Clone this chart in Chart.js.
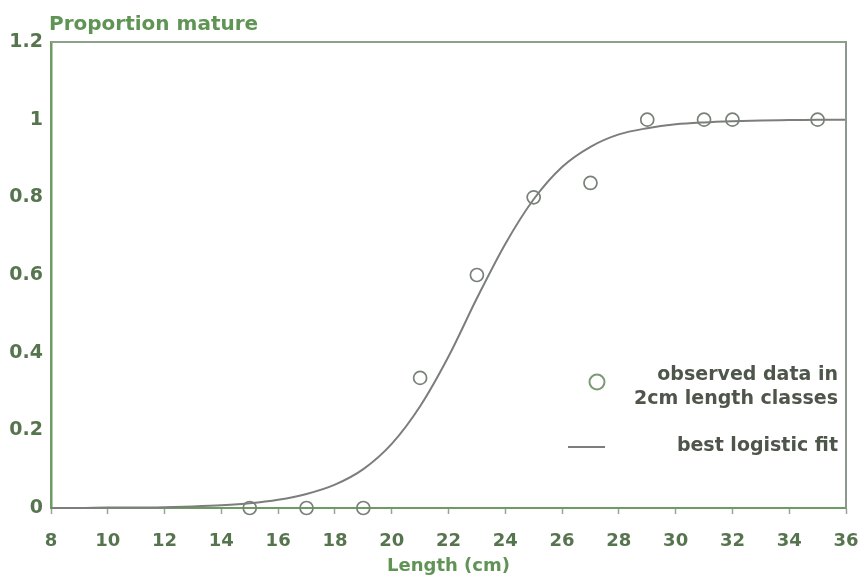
<!DOCTYPE html>
<html>
<head>
<meta charset="utf-8">
<script src="https://cdn.jsdelivr.net/npm/chart.js@4/dist/chart.umd.min.js"></script>
<style>
  html, body { margin: 0; padding: 0; background: #ffffff; }
  #wrap { width: 860px; height: 577px; position: relative; }
</style>
</head>
<body>
<div id="wrap"><canvas id="c" width="860" height="577"></canvas></div>
<script>
// Observed proportion mature per 2 cm length class
const lengthClasses = [15, 17, 19, 21, 23, 25, 27, 29, 31, 32, 35];
const proportionMature = [0, 0, 0, 0.335, 0.6, 0.8, 0.837, 1, 1, 1, 1];

// Fitted logistic curve, sampled at each whole centimetre
const fitLength = [8, 9, 10, 11, 12, 13, 14, 15, 16, 17, 18, 19, 20, 21, 22,
                   23, 24, 25, 26, 27, 28, 29, 30, 31, 32, 33, 34, 35, 36];
const fitProportion = [0.000, 0.000, 0.001, 0.001, 0.002, 0.004, 0.007, 0.012,
                       0.021, 0.036, 0.060, 0.100, 0.165, 0.262, 0.390, 0.540,
                       0.680, 0.795, 0.878, 0.930, 0.962, 0.978, 0.988, 0.993,
                       0.996, 0.998, 0.999, 1.000, 1.000];

const xTickLabels = ['8', '10', '12', '14', '16', '18', '20', '22', '24', '26', '28', '30', '32', '34', '36'];
const yTickLabels = ['0', '0.2', '0.4', '0.6', '0.8', '1', '1.2'];

const FONT = '"DejaVu Sans", "Liberation Sans", sans-serif';
const AXIS_GREEN = '#6f9a65';
const LABEL_GREEN = '#56754f';
const TITLE_GREEN = '#5f9455';
const LEGEND_TEXT = '#4e564c';
const CURVE_GREY = '#7b7e7b';
const POINT_GREY = '#798079';

// Top/right frame, y-axis heading and the in-plot legend
const decorations = {
  id: 'decorations',
  afterDraw(chart) {
    const { ctx, chartArea: a } = chart;
    ctx.save();
    ctx.lineWidth = 2;
    ctx.strokeStyle = '#8da18a';
    ctx.beginPath();
    ctx.moveTo(a.left, a.top);
    ctx.lineTo(a.right, a.top);
    ctx.stroke();
    ctx.strokeStyle = '#8e978e';
    ctx.beginPath();
    ctx.moveTo(a.right, a.top - 1);
    ctx.lineTo(a.right, a.bottom);
    ctx.stroke();

    ctx.fillStyle = TITLE_GREEN;
    ctx.font = 'bold 20px ' + FONT;
    ctx.textAlign = 'left';
    ctx.textBaseline = 'alphabetic';
    ctx.fillText('Proportion mature', a.left - 2, 30);

    // legend
    const textRight = a.right - 8;
    ctx.fillStyle = LEGEND_TEXT;
    ctx.font = 'bold 19px ' + FONT;
    ctx.textAlign = 'right';
    ctx.textBaseline = 'middle';
    ctx.fillText('observed data in', textRight, 375);
    ctx.fillText('2cm length classes', textRight, 399);
    ctx.fillText('best logistic fit', textRight, 446);

    ctx.strokeStyle = '#7c9a74';
    ctx.lineWidth = 2;
    ctx.beginPath();
    ctx.arc(597, 382, 7.5, 0, Math.PI * 2);
    ctx.stroke();

    ctx.strokeStyle = CURVE_GREY;
    ctx.lineWidth = 2;
    ctx.beginPath();
    ctx.moveTo(568, 447);
    ctx.lineTo(605, 447);
    ctx.stroke();
    ctx.restore();
  }
};

new Chart(document.getElementById('c'), {
  type: 'scatter',
  data: {
    datasets: [
      {
        label: 'best logistic fit',
        data: fitLength.map((x, i) => ({ x, y: fitProportion[i] })),
        showLine: true,
        borderColor: CURVE_GREY,
        borderWidth: 2,
        pointRadius: 0,
        cubicInterpolationMode: 'monotone',
        order: 2
      },
      {
        label: 'observed data in 2cm length classes',
        data: lengthClasses.map((x, i) => ({ x, y: proportionMature[i] })),
        showLine: false,
        pointStyle: 'circle',
        pointRadius: 6.5,
        pointBorderWidth: 1.7,
        pointBorderColor: POINT_GREY,
        pointBackgroundColor: 'rgba(0,0,0,0)',
        order: 1
      }
    ]
  },
  options: {
    responsive: false,
    animation: false,
    clip: false,
    layout: { padding: { top: 42, right: 0, left: 0, bottom: 0 } },
    plugins: {
      legend: { display: false },
      tooltip: { enabled: false },
      title: { display: false }
    },
    scales: {
      x: {
        type: 'linear',
        min: 8,
        max: 36,
        afterFit(scale) {
          scale.height = 69;
          scale.paddingRight = 14;
        },
        afterBuildTicks(scale) {
          scale.ticks = xTickLabels.map(v => ({ value: Number(v) }));
        },
        ticks: {
          callback: (v) => xTickLabels.find(t => Number(t) === v) ?? '',
          color: LABEL_GREEN,
          font: { family: FONT, size: 18, weight: 'bold' },
          padding: 17,
          maxRotation: 0,
          autoSkip: false
        },
        grid: {
          drawOnChartArea: false,
          drawTicks: true,
          tickLength: 6,
          tickColor: '#9aa39a',
          tickWidth: 1.5
        },
        border: { display: true, color: AXIS_GREEN, width: 2 },
        title: {
          display: true,
          text: 'Length (cm)',
          color: TITLE_GREEN,
          font: { family: FONT, size: 18, weight: 'bold' },
          padding: { top: 0, bottom: 0 }
        }
      },
      y: {
        type: 'linear',
        min: 0,
        max: 1.2,
        afterFit(scale) { scale.width = 51; },
        afterBuildTicks(scale) {
          scale.ticks = yTickLabels.map(v => ({ value: Number(v) }));
        },
        ticks: {
          callback: (v) => yTickLabels.find(t => Math.abs(Number(t) - v) < 1e-9) ?? '',
          color: LABEL_GREEN,
          font: { family: FONT, size: 19, weight: 'bold' },
          padding: 8
        },
        grid: { drawOnChartArea: false, drawTicks: false },
        border: { display: true, color: AXIS_GREEN, width: 2.5 }
      }
    }
  },
  plugins: [decorations]
});
</script>
</body>
</html>
